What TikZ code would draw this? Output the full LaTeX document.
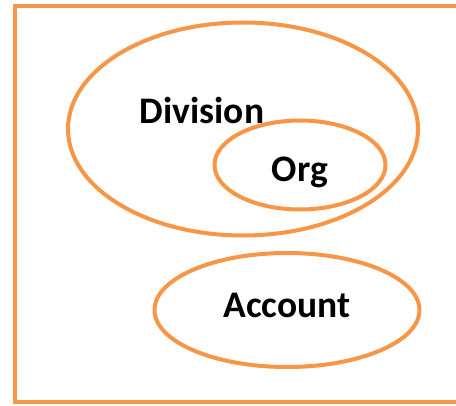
\documentclass[tikz,border=0pt]{standalone}
\usepackage{fontspec}
\setmainfont{Carlito}
\usetikzlibrary{
  shapes.geometric,
  positioning
}
\definecolor{setorange}{RGB}{247,150,70}

\tikzset{
  setring/.style = {ellipse, draw = setorange, line width = 4pt, inner sep = 0pt},
  setname/.style = {font = \fontsize{37.5}{44}\selectfont\bfseries, inner sep = 0pt}
}

\begin{document}
\begin{tikzpicture}[x = 1pt, y = -1pt]
    \useasboundingbox (0,0) rectangle (456,406);
    \fill[white] (0,0) rectangle (456,406);

    % outer frame, its right side runs off the page
    \draw[setorange, line width = 4pt] (15,6) rectangle (470,402);

    \node[setring, minimum width = 350pt, minimum height = 213pt] (division) at (243,129) {};
    \node[setring, minimum width = 171pt, minimum height = 89pt] (org) at (300,165) {};
    \node[setring, minimum width = 265pt, minimum height = 114pt] (account) at (287,310) {};

    \node[setname] (divisionname) at (202,110) {Division};
    \node[setname] (orgname) at (300,172) {Org};
    \node[setname] (accountname) at (287,305) {Account};
  \end{tikzpicture}
\end{document}
